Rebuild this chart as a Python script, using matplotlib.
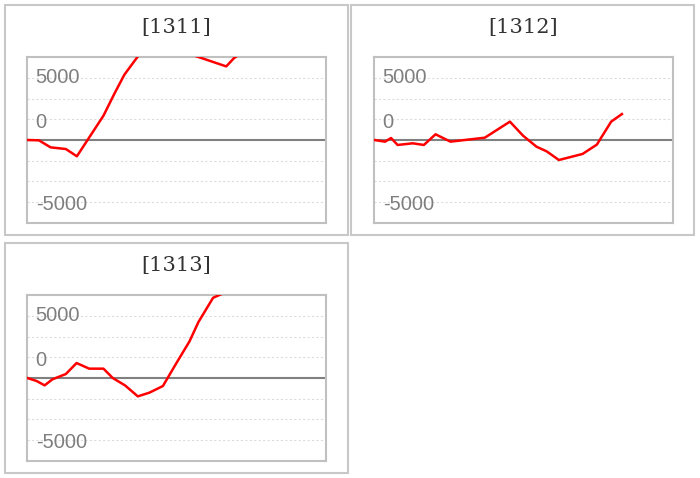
import matplotlib.pyplot as plt
from matplotlib.patches import Rectangle

# series data (x = position along the period, y = value)
x_1311 = [0, 3.9, 5.0, 7.8, 12.9, 16.6, 25.5, 29.1, 32.5, 37.0, 45.4, 54.3, 66.6, 69.2, 74.5, 79.3, 82.9]
y_1311 = [0, -40, -280, -890, -1090, -1970, 2940, 5560, 7900, 10100, 12500, 10400, 8900, 9900, 11200, 12000, 12600]

x_1312 = [0, 3.6, 5.6, 7.8, 12.9, 16.6, 20.5, 25.5, 37.0, 45.4, 49.8, 54.3, 57.7, 61.8, 69.7, 74.5, 79.3, 82.9]
y_1312 = [0, -200, 240, -600, -400, -600, 690, -200, 280, 2220, 520, -810, -1370, -2420, -1690, -560, 2220, 3140]

x_1313 = [0, 3.1, 5.8, 8.4, 12.9, 16.5, 20.7, 25.5, 28.6, 32.7, 37.0, 40.9, 45.4, 49.8, 54.3, 57.3, 62.2, 66.6, 74.5, 82.9]
y_1313 = [0, -360, -890, -160, 480, 1810, 1130, 1130, 0, -890, -2220, -1770, -970, 1730, 4430, 6770, 9700, 10400, 12000, 13500]

titles = ["[1311]", "[1312]", "[1313]"]
grid_vals = [-7500, -5000, -2500, 2500, 5000, 7500]
label_texts = ["5000", "0", "-5000"]
label_vals = [7600, 2150, -7850]

W, H = 700, 478


def fig_rect(x0, y0, x1, y1):
    # pixel box (top-left origin) -> figure fraction rect
    return [x0 / W, 1 - y1 / H, (x1 - x0) / W, (y1 - y0) / H]


def draw_panel(fig, box, plot, title, xs, ys):
    bx0, by0, bx1, by1 = box
    fig.patches.append(Rectangle((bx0 / W, 1 - by1 / H), (bx1 - bx0) / W, (by1 - by0) / H,
                                 transform=fig.transFigure, fill=False,
                                 edgecolor="#c8c8c8", linewidth=1.5))
    fig.text((bx0 + bx1) / 2 / W, 1 - (by0 + 22.5) / H, title, ha="center", va="center",
             fontsize=15, family="DejaVu Serif", color="#333333")

    ax = fig.add_axes(fig_rect(*plot))
    ax.set_xlim(0, 100)
    ax.set_ylim(-10000, 10000)
    ax.set_yticks(grid_vals)
    ax.set_xticks([])
    ax.tick_params(axis="y", length=0, labelleft=False)
    ax.yaxis.grid(True, color="#dcdcdc", linestyle=(0, (2, 2)), linewidth=0.8)
    for s in ax.spines.values():
        s.set_color("#c0c0c0")
        s.set_linewidth(1.5)
    ax.axhline(0, color="#808080", linewidth=1.5, zorder=2)
    ax.plot(xs, ys, color="#ff0000", linewidth=1.8, zorder=3)
    for txt, v in zip(label_texts, label_vals):
        ax.text(0.028, v, txt, transform=ax.get_yaxis_transform(), ha="left", va="center",
                fontsize=14.5, family="Liberation Sans", color="#7f7f7f", zorder=4)
    return ax


def main():
    fig = plt.figure(figsize=(7, 4.78), dpi=100)
    draw_panel(fig, (5, 5, 348, 234.7), (27.3, 57.3, 326, 222.7), titles[0], x_1311, y_1311)
    draw_panel(fig, (351, 5, 694.3, 234.7), (374.3, 57.3, 673, 222.7), titles[1], x_1312, y_1312)
    draw_panel(fig, (5, 243, 348, 472.7), (27.3, 295.3, 326, 460.7), titles[2], x_1313, y_1313)
    fig.savefig("out.png", dpi=100)


if __name__ == "__main__":
    main()
